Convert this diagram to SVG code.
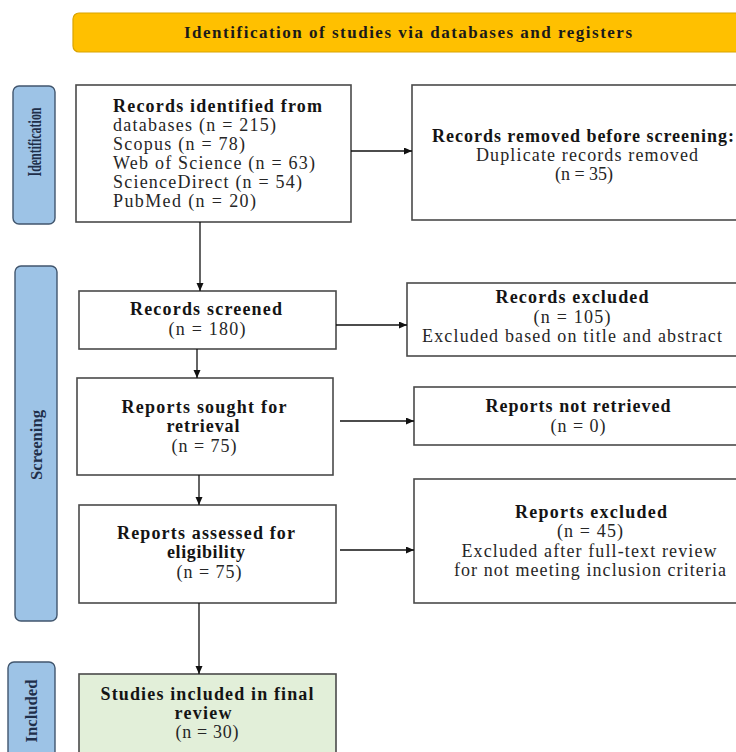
<svg xmlns="http://www.w3.org/2000/svg" width="736" height="752" viewBox="0 0 736 752">
<defs>
<style>
.box{fill:#ffffff;stroke:#4a4a4a;stroke-width:1.6}
.side{fill:#9dc3e6;stroke:#41566e;stroke-width:1.4}
.t{font-family:"Liberation Serif","Times New Roman",serif;font-size:18px;fill:#262626}
.b{font-weight:bold;fill:#141414}
.c{text-anchor:middle}
.st{font-family:"Liberation Serif","Times New Roman",serif;font-weight:bold;fill:#1f2f4a;text-anchor:middle}
.hd{font-family:"Liberation Serif","Times New Roman",serif;font-size:17px;font-weight:bold;fill:#1a1a1a;text-anchor:middle}
.con{stroke:#111;stroke-width:1.3;fill:none;marker-end:url(#arr)}
</style>
<marker id="arr" markerUnits="userSpaceOnUse" markerWidth="9" markerHeight="8" refX="8" refY="3.5" orient="auto">
<path d="M0,0 L8,3.5 L0,7 z" fill="#111"/>
</marker>
</defs>
<rect width="736" height="752" fill="#ffffff"/>

<g id="header">
<rect x="73" y="13" width="680" height="39" rx="6" fill="#ffc000" stroke="#d9a300" stroke-width="1.2"/>
<text class="hd" x="408" y="38" textLength="448" lengthAdjust="spacing">Identification of studies via databases and registers</text>
</g>

<g id="side-identification">
<rect class="side" x="13" y="86" width="42" height="138" rx="6"/>
<text class="st" font-size="18" transform="translate(41,142) rotate(-90)" textLength="69" lengthAdjust="spacingAndGlyphs">Identification</text>
</g>
<g id="side-screening">
<rect class="side" x="15" y="266" width="42" height="355" rx="6"/>
<text class="st" font-size="16" transform="translate(41.5,445) rotate(-90)" textLength="70" lengthAdjust="spacingAndGlyphs">Screening</text>
</g>
<g id="side-included">
<rect class="side" x="8" y="662" width="47" height="100" rx="6"/>
<text class="st" font-size="17" transform="translate(37,711) rotate(-90)" textLength="63" lengthAdjust="spacingAndGlyphs">Included</text>
</g>

<g id="records-identified">
<rect class="box" x="76" y="85" width="275" height="137"/>
<text class="t b" x="113" y="112" textLength="209" lengthAdjust="spacing">Records identified from</text>
<text class="t" x="113" y="131" textLength="163" lengthAdjust="spacing">databases (n = 215)</text>
<text class="t" x="113" y="150" textLength="132" lengthAdjust="spacing">Scopus (n = 78)</text>
<text class="t" x="113" y="169" textLength="202" lengthAdjust="spacing">Web of Science (n = 63)</text>
<text class="t" x="113" y="188" textLength="189" lengthAdjust="spacing">ScienceDirect (n = 54)</text>
<text class="t" x="113" y="207" textLength="143" lengthAdjust="spacing">PubMed (n = 20)</text>
</g>

<g id="records-removed">
<rect class="box" x="412" y="85" width="340" height="135"/>
<text class="t b c" x="583" y="142" textLength="302" lengthAdjust="spacing">Records removed before screening:</text>
<text class="t c" x="587" y="161" textLength="222" lengthAdjust="spacing">Duplicate records removed</text>
<text class="t c" x="584" y="180" textLength="58" lengthAdjust="spacing">(n = 35)</text>
</g>

<g id="records-screened">
<rect class="box" x="79" y="291" width="257" height="58"/>
<text class="t b c" x="206" y="315" textLength="152" lengthAdjust="spacing">Records screened</text>
<text class="t c" x="207" y="335" textLength="77" lengthAdjust="spacing">(n = 180)</text>
</g>

<g id="records-excluded">
<rect class="box" x="407" y="283" width="345" height="73"/>
<text class="t b c" x="572" y="303" textLength="153" lengthAdjust="spacing">Records excluded</text>
<text class="t c" x="572" y="323" textLength="77" lengthAdjust="spacing">(n = 105)</text>
<text class="t c" x="572" y="342" textLength="300" lengthAdjust="spacing">Excluded based on title and abstract</text>
</g>

<g id="reports-sought">
<rect class="box" x="77" y="378" width="256" height="97"/>
<text class="t b c" x="204" y="413" textLength="165" lengthAdjust="spacing">Reports sought for</text>
<text class="t b c" x="203" y="432" textLength="73" lengthAdjust="spacing">retrieval</text>
<text class="t c" x="204" y="452" textLength="65" lengthAdjust="spacing">(n = 75)</text>
</g>

<g id="reports-not-retrieved">
<rect class="box" x="414" y="387" width="338" height="58"/>
<text class="t b c" x="578" y="412" textLength="185" lengthAdjust="spacing">Reports not retrieved</text>
<text class="t c" x="578" y="432" textLength="55" lengthAdjust="spacing">(n = 0)</text>
</g>

<g id="reports-assessed">
<rect class="box" x="79" y="505" width="257" height="98"/>
<text class="t b c" x="206" y="539" textLength="178" lengthAdjust="spacing">Reports assessed for</text>
<text class="t b c" x="206" y="558" textLength="78" lengthAdjust="spacing">eligibility</text>
<text class="t c" x="209" y="578" textLength="65" lengthAdjust="spacing">(n = 75)</text>
</g>

<g id="reports-excluded">
<rect class="box" x="414" y="479" width="338" height="124"/>
<text class="t b c" x="591" y="518" textLength="152" lengthAdjust="spacing">Reports excluded</text>
<text class="t c" x="590" y="537" textLength="66" lengthAdjust="spacing">(n = 45)</text>
<text class="t c" x="589" y="557" textLength="255" lengthAdjust="spacing">Excluded after full-text review</text>
<text class="t c" x="590" y="576" textLength="272" lengthAdjust="spacing">for not meeting inclusion criteria</text>
</g>

<g id="studies-included">
<rect x="79" y="674" width="257" height="90" fill="#e2efd9" stroke="#4a4a4a" stroke-width="1.6"/>
<text class="t b c" x="207" y="700" textLength="213" lengthAdjust="spacing">Studies included in final</text>
<text class="t b c" x="203" y="719" textLength="57" lengthAdjust="spacing">review</text>
<text class="t c" x="207" y="738" textLength="63" lengthAdjust="spacing">(n = 30)</text>
</g>

<g id="connectors">
<line class="con" x1="200" y1="222" x2="200" y2="291"/>
<line class="con" x1="351" y1="151" x2="412" y2="151"/>
<line class="con" x1="336" y1="325" x2="407" y2="325"/>
<line class="con" x1="197" y1="349" x2="197" y2="378"/>
<line class="con" x1="340" y1="421" x2="414" y2="421"/>
<line class="con" x1="199" y1="475" x2="199" y2="505"/>
<line class="con" x1="340" y1="550" x2="414" y2="550"/>
<line class="con" x1="199" y1="603" x2="199" y2="674"/>
</g>
</svg>
